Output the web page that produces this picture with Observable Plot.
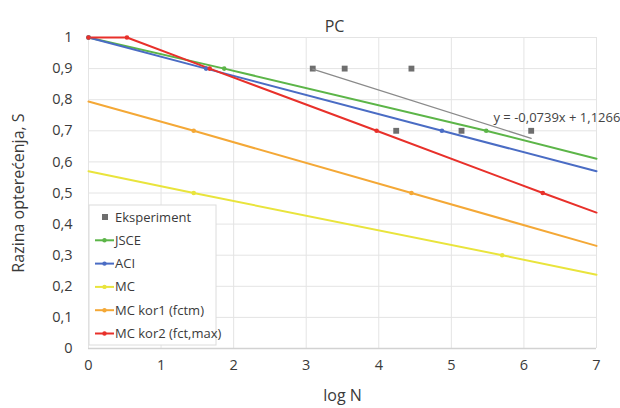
<!DOCTYPE html>
<html>
<head>
<meta charset="utf-8">
<script src="https://cdn.jsdelivr.net/npm/d3@7"></script>
<script src="https://cdn.jsdelivr.net/npm/@observablehq/plot@0.6"></script>
<style>
  html, body { margin: 0; padding: 0; background: #fff; }
  #chart { width: 620px; height: 408px; }
</style>
</head>
<body>
<div id="chart"></div>
<script>
// ---- data ----
const title = "PC";
const xLabel = "log N";
const yLabel = "Razina opterećenja, S";
const xTicks = [0, 1, 2, 3, 4, 5, 6, 7];
const yTicks = [0, 0.1, 0.2, 0.3, 0.4, 0.5, 0.6, 0.7, 0.8, 0.9, 1];

const seriesNames = ["JSCE", "ACI", "MC", "MC kor1 (fctm)", "MC kor2 (fct,max)"];
const seriesColors = ["#5cb548", "#4a6cc4", "#e9e43c", "#f4a836", "#e8302a"];

const jsceLogN = [0, 1.87, 5.48, 7];
const jsceS    = [1, 0.9, 0.7, 0.61];
const jsceMark = [1, 1, 1, 0];

const aciLogN = [0, 1.62, 4.87, 7];
const aciS    = [1, 0.9, 0.7, 0.57];
const aciMark = [1, 1, 1, 0];

const mcLogN = [0, 1.45, 5.7, 7];
const mcS    = [0.57, 0.5, 0.3, 0.237];
const mcMark = [0, 1, 1, 0];

const kor1LogN = [0, 1.45, 4.45, 7];
const kor1S    = [0.794, 0.7, 0.5, 0.33];
const kor1Mark = [0, 1, 1, 0];

const kor2LogN = [0, 0.53, 1.67, 3.97, 6.26, 7];
const kor2S    = [1, 1, 0.9, 0.7, 0.5, 0.437];
const kor2Mark = [1, 1, 1, 1, 1, 0];

const expName = "Eksperiment";
const expLogN = [3.09, 3.53, 4.45, 4.24, 5.14, 6.10];
const expS    = [0.9, 0.9, 0.9, 0.7, 0.7, 0.7];

const trendSlope = -0.0739;
const trendIntercept = 1.1266;
const trendLabel = "y = -0,0739x + 1,1266";

// ---- build tables ----
const seriesData = [
  [jsceLogN, jsceS, jsceMark],
  [aciLogN, aciS, aciMark],
  [mcLogN, mcS, mcMark],
  [kor1LogN, kor1S, kor1Mark],
  [kor2LogN, kor2S, kor2Mark]
];
const rows = [];
seriesData.forEach(([xs, ys, ms], i) => {
  xs.forEach((x, j) => rows.push({series: seriesNames[i], logN: x, S: ys[j], mark: ms[j] === 1}));
});
const expRows = expLogN.map((x, i) => ({logN: x, S: expS[i]}));
const tx0 = d3.min(expLogN), tx1 = d3.max(expLogN);
const trendRows = [tx0, tx1].map(x => ({logN: x, S: trendIntercept + trendSlope * x}));

const comma = d => d3.format(".1~f")(d).replace(".", ",");
const FONT = "'Open Sans', 'Noto Sans', sans-serif";

const chart = Plot.plot({
  width: 620,
  height: 408,
  marginLeft: 88,
  marginRight: 24,
  marginTop: 37,
  marginBottom: 60,
  style: {fontFamily: FONT, fontSize: "14px", color: "#3a3a3a", background: "#fff"},
  x: {domain: [0, 7]},
  y: {domain: [0, 1]},
  color: {domain: seriesNames, range: seriesColors},
  marks: [
    Plot.gridY(yTicks, {stroke: "#e4e4e4", strokeOpacity: 1}),
    Plot.gridX(xTicks, {stroke: "#e4e4e4", strokeOpacity: 1}),
    Plot.ruleY([0], {stroke: "#d2d2d2", strokeWidth: 1.5}),
    Plot.axisY(yTicks, {tickSize: 0, tickPadding: 16, tickFormat: comma, label: null, fontSize: 14.5}),
    Plot.axisX(xTicks, {tickSize: 0, tickPadding: 11, label: null, fontSize: 14.5}),
    Plot.dot(expRows, {x: "logN", y: "S", symbol: "square", fill: "#6e6e6e", r: 3.3}),
    Plot.line(trendRows, {x: "logN", y: "S", stroke: "#8a8a8a", strokeWidth: 1.3}),
    Plot.line(rows, {x: "logN", y: "S", z: "series", stroke: "series", strokeWidth: 2}),
    Plot.dot(rows.filter(d => d.mark), {x: "logN", y: "S", fill: "series", r: 2.3}),
    Plot.text([trendLabel], {x: 5.58, y: 0.743, text: d => d, textAnchor: "start", fontSize: 13, fill: "#444"}),
    Plot.text([title], {frameAnchor: "top", dx: -8, dy: -17, text: d => d, fontSize: 16, fill: "#3a3a3a"}),
    Plot.text([xLabel], {frameAnchor: "bottom", dy: 52, text: d => d, fontSize: 16, fill: "#3a3a3a"}),
    Plot.text([yLabel], {frameAnchor: "left", textAnchor: "middle", dx: -70, rotate: -90, text: d => d, fontSize: 16, fill: "#3a3a3a"})
  ]
});

// ---- legend (inside plot, bottom-left) ----
const svg = d3.select(chart);
const lg = svg.append("g").attr("transform", "translate(89,205)")
  .style("font-family", FONT).style("font-size", "13px").attr("text-anchor", "start");
lg.append("rect").attr("width", 127).attr("height", 140).attr("fill", "#fff").attr("stroke", "#dcdcdc");
const legendItems = [{name: expName, color: "#6e6e6e", square: true}]
  .concat(seriesNames.map((n, i) => ({name: n, color: seriesColors[i], square: false})));
legendItems.forEach((it, i) => {
  const g = lg.append("g").attr("transform", `translate(0,${12 + i * 23.3})`);
  if (it.square) {
    g.append("rect").attr("x", 13).attr("y", -3).attr("width", 6).attr("height", 6).attr("fill", it.color);
  } else {
    g.append("line").attr("x1", 6).attr("x2", 25).attr("y1", 0).attr("y2", 0).attr("stroke", it.color).attr("stroke-width", 2);
    g.append("circle").attr("cx", 15.5).attr("cy", 0).attr("r", 2.2).attr("fill", it.color);
  }
  g.append("text").attr("x", 26).attr("y", 0).attr("dy", "0.35em").attr("text-anchor", "start")
    .attr("fill", "#3a3a3a").text(it.name);
});

document.getElementById("chart").appendChild(chart);
</script>
</body>
</html>
